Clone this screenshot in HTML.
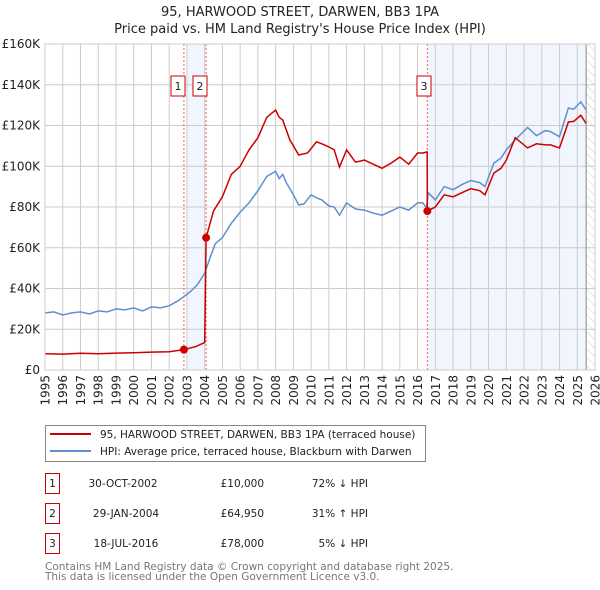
<!DOCTYPE html>
<html><head><meta charset="utf-8"><style>
body{margin:0;background:#fff;font-family:"DejaVu Sans","Liberation Sans",sans-serif;}
#wrap{position:relative;width:600px;height:590px;overflow:hidden;}
svg text{font-family:"DejaVu Sans","Liberation Sans",sans-serif;}
</style></head><body>
<div id="wrap">
<svg id="chart" width="600" height="590" xmlns="http://www.w3.org/2000/svg"></svg>
</div>
<script>
const yearTicks=[1995,1996,1997,1998,1999,2000,2001,2002,2003,2004,2005,2006,2007,2008,2009,2010,2011,2012,2013,2014,2015,2016,2017,2018,2019,2020,2021,2022,2023,2024,2025,2026];
const valueTicks=[0,20000,40000,60000,80000,100000,120000,140000,160000];
const valueTickLabels=["£0","£20K","£40K","£60K","£80K","£100K","£120K","£140K","£160K"];
const hpiDates=[1995,1995.5,1996,1996.5,1997,1997.5,1998,1998.5,1999,1999.5,2000,2000.5,2001,2001.5,2002,2002.5,2002.83,2003.2,2003.6,2004,2004.3,2004.6,2005,2005.5,2006,2006.5,2007,2007.5,2008,2008.2,2008.4,2008.6,2009,2009.3,2009.6,2010,2010.3,2010.6,2011,2011.3,2011.6,2012,2012.5,2013,2013.5,2014,2014.5,2015,2015.5,2016,2016.3,2016.5,2016.6,2017,2017.5,2018,2018.5,2019,2019.5,2019.8,2020.3,2020.7,2021,2021.5,2022.2,2022.7,2023.2,2023.5,2024,2024.5,2024.8,2025.2,2025.5];
const hpiValues=[28000,28500,27000,28000,28500,27500,29000,28500,30000,29500,30500,29000,31000,30500,31500,34000,36000,38500,42000,47500,55000,62000,65000,72000,77500,82000,88000,95000,97500,94000,96000,92000,86000,81000,81500,86000,84500,83500,80500,80000,76000,82000,79000,78500,77000,76000,78000,80000,78500,82000,82000,79500,87000,83500,90000,88500,91000,93000,92000,90000,101600,104000,108000,113000,119000,115000,117500,117000,114500,128600,128000,131600,127600];
const saleDates=[1995,1996,1997,1998,1999,2000,2001,2002,2002.83,2003.5,2004.0,2004.08,2004.5,2005,2005.5,2006,2006.5,2007,2007.5,2008,2008.2,2008.4,2008.8,2009.3,2009.8,2010.3,2010.6,2011,2011.3,2011.6,2012,2012.5,2013,2013.5,2014,2014.5,2015,2015.5,2016,2016.3,2016.5,2016.54,2016.55,2017,2017.5,2018,2018.5,2019,2019.5,2019.8,2020.3,2020.7,2021,2021.5,2022.2,2022.7,2023.2,2023.5,2024,2024.5,2024.8,2025.2,2025.5];
const saleValues=[8000,7800,8200,8000,8300,8500,8800,9000,10000,11500,13500,64950,78000,85000,96000,100000,108000,114000,124000,127600,124000,122700,113000,105500,106500,112000,111000,109500,108000,99600,108000,102000,103000,101000,99000,101500,104500,101000,106500,106500,107000,107000,78000,80000,86000,85000,87000,89000,88000,86000,96700,99000,103000,114000,109000,111000,110500,110500,109000,121700,122000,125000,121000];
const markerDates=[2002.83,2004.08,2016.55];
const markerValues=[10000,64950,78000];
const markerLabels=["1","2","3"];

const NS="http://www.w3.org/2000/svg";
const svg=document.getElementById('chart');
const L=45,R=595,T=44,B=370;
const xS=d=>L+(d-1995)/(2026-1995)*(R-L);
const yS=v=>B-v/160000*(B-T);
function mk(tag,attrs,parent){const e=document.createElementNS(NS,tag);for(const k in attrs)e.setAttribute(k,attrs[k]);(parent||svg).appendChild(e);return e;}

let t=mk('text',{x:300,y:16,'text-anchor':'middle','font-size':13,fill:'#222'});t.textContent='95, HARWOOD STREET, DARWEN, BB3 1PA';


t=mk('text',{x:300,y:33,'text-anchor':'middle','font-size':13,fill:'#222'});t.textContent="Price paid vs. HM Land Registry's House Price Index (HPI)";



const defs=mk('defs',{});
const pat=mk('pattern',{id:'hatch',width:6,height:6,patternUnits:'userSpaceOnUse',patternTransform:'rotate(-45)'},defs);
mk('line',{x1:0,y1:0,x2:0,y2:6,stroke:'#ccc','stroke-width':1},pat);

let s=mk('rect',{x:xS(2003.0),y:T,width:xS(2004.08)-xS(2003.0),height:B-T,fill:'#eef3fc',opacity:0.8});


s=mk('rect',{x:xS(2016.55),y:T,width:xS(2025.5)-xS(2016.55),height:B-T,fill:'#eef3fc',opacity:0.8});


s=mk('rect',{x:xS(2025.5),y:T,width:R-xS(2025.5),height:B-T,fill:'url(#hatch)'});



yearTicks.forEach(y=>{const l=mk('line',{x1:xS(y),x2:xS(y),y1:T,y2:B,stroke:'#ccc','stroke-width':1});


const tx=mk('text',{x:0,y:0,'text-anchor':'end','font-size':12,fill:'#222',transform:'translate('+(xS(y)+4.5)+',375) rotate(-90)'});tx.textContent=y;

});
valueTicks.forEach((v,i)=>{const l=mk('line',{x1:L,x2:R,y1:yS(v),y2:yS(v),stroke:'#ccc','stroke-width':1});


const tx=mk('text',{x:40,y:yS(v)+4,'text-anchor':'end','font-size':12,fill:'#222'});tx.textContent=valueTickLabels[i];

});
let ln=mk('line',{x1:xS(2025.5),x2:xS(2025.5),y1:T,y2:B,stroke:'#888','stroke-width':1});



markerDates.forEach((d,i)=>{const l=mk('line',{x1:xS(d),x2:xS(d),y1:T,y2:B,stroke:'#f06060','stroke-width':1,'stroke-dasharray':'2,2'});

});

function path(xs,ys){return xs.map((d,i)=>(i?'L':'M')+xS(d).toFixed(1)+','+yS(ys[i]).toFixed(1)).join(' ');}
let p=mk('path',{d:path(hpiDates,hpiValues),fill:'none',stroke:'#5f8fd0','stroke-width':1.5});


p=mk('path',{d:path(saleDates,saleValues),fill:'none',stroke:'#cc0000','stroke-width':1.5});



markerDates.forEach((d,i)=>{const c=mk('circle',{cx:xS(d),cy:yS(markerValues[i]),r:4,fill:'#cc0000'});


const g=mk('g',{});


const x0=[171,193,417][i];
mk('rect',{x:x0,y:76,width:14,height:20,fill:'#fff',stroke:'#cc0000','stroke-width':1},g);
const tt=mk('text',{x:x0+7,y:90,'text-anchor':'middle','font-size':11,fill:'#222'},g);tt.textContent=markerLabels[i];});
let fr=mk('rect',{x:L,y:T,width:R-L,height:B-T,fill:'none',stroke:'#ccc'});



const lg=mk('g',{});


mk('rect',{x:45.5,y:425.5,width:380,height:36,fill:'#fff',stroke:'#888'},lg);
mk('line',{x1:50,x2:91,y1:434,y2:434,stroke:'#cc0000','stroke-width':2},lg);
mk('line',{x1:50,x2:91,y1:451,y2:451,stroke:'#5f8fd0','stroke-width':2},lg);
t=mk('text',{x:100,y:438,'font-size':10.5,fill:'#222'},lg);t.textContent='95, HARWOOD STREET, DARWEN, BB3 1PA (terraced house)';


t=mk('text',{x:100,y:455,'font-size':10.5,fill:'#222'},lg);t.textContent='HPI: Average price, terraced house, Blackburn with Darwen';



const rowsDate=["30-OCT-2002","29-JAN-2004","18-JUL-2016"];
const rowsPrice=["£10,000","£64,950","£78,000"];
const rowsHpi=["72% ↓ HPI","31% ↑ HPI","5% ↓ HPI"];
[483,513,543].forEach((y,i)=>{const g=mk('g',{});


mk('rect',{x:45.5,y:y-9.5,width:14,height:20,fill:'#fff',stroke:'#cc0000'},g);
let a=mk('text',{x:52.5,y:y+4,'text-anchor':'middle','font-size':10.5,fill:'#222'},g);a.textContent=i+1;
a=mk('text',{x:i==0?123:126,y:y+4,'text-anchor':'middle','font-size':10.5,fill:'#222'},g);a.textContent=rowsDate[i];
a=mk('text',{x:264,y:y+4,'text-anchor':'end','font-size':10.5,fill:'#222'},g);a.textContent=rowsPrice[i];
a=mk('text',{x:368,y:y+4,'text-anchor':'end','font-size':10.5,fill:'#222'},g);a.textContent=rowsHpi[i];});
t=mk('text',{x:45,y:570,'font-size':10.5,fill:'#777'});t.textContent='Contains HM Land Registry data © Crown copyright and database right 2025.';


t=mk('text',{x:45,y:580,'font-size':10.5,fill:'#777'});t.textContent='This data is licensed under the Open Government Licence v3.0.';


</script>
</body></html>
